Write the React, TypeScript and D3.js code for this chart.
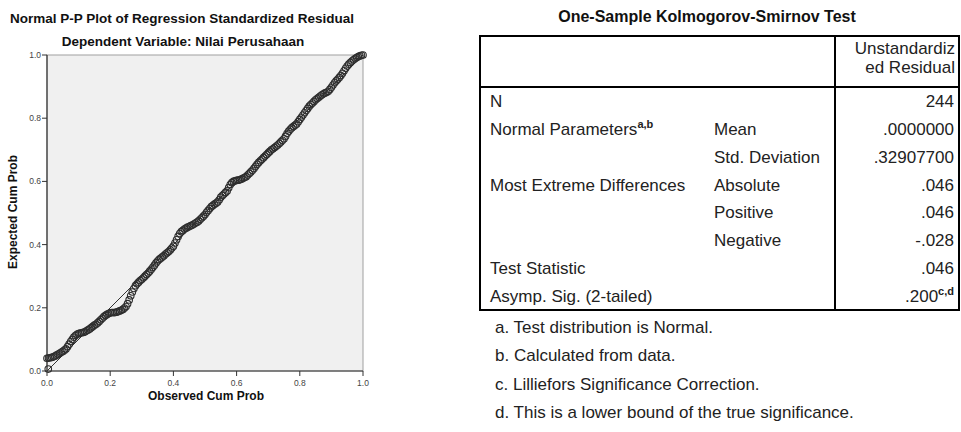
import React from 'react';
import * as d3 from 'd3';

const observedCum = [
  0.004, 0.00, 0.01, 0.02, 0.03, 0.04, 0.05, 0.06, 0.07, 0.08, 0.09,
  0.10, 0.11, 0.12, 0.13, 0.14, 0.15, 0.16, 0.17, 0.18, 0.19,
  0.20, 0.21, 0.22, 0.23, 0.24, 0.25, 0.26, 0.27, 0.28, 0.29,
  0.30, 0.31, 0.32, 0.33, 0.34, 0.35, 0.36, 0.37, 0.38, 0.39,
  0.40, 0.41, 0.42, 0.43, 0.44, 0.45, 0.46, 0.47, 0.48, 0.49,
  0.50, 0.51, 0.52, 0.53, 0.54, 0.55, 0.56, 0.57, 0.58, 0.59,
  0.60, 0.61, 0.62, 0.63, 0.64, 0.65, 0.66, 0.67, 0.68, 0.69,
  0.70, 0.71, 0.72, 0.73, 0.74, 0.75, 0.76, 0.77, 0.78, 0.79,
  0.80, 0.81, 0.82, 0.83, 0.84, 0.85, 0.86, 0.87, 0.88, 0.89,
  0.90, 0.91, 0.92, 0.93, 0.94, 0.95, 0.96, 0.97, 0.98, 0.99, 1.00,
  0.005, 0.015, 0.025, 0.035, 0.045, 0.055, 0.065, 0.075, 0.085, 0.095,
  0.105, 0.115, 0.125, 0.135, 0.145, 0.155, 0.165, 0.175, 0.185, 0.195,
  0.205, 0.215, 0.225, 0.235, 0.245, 0.255, 0.265, 0.275, 0.285, 0.295,
  0.305, 0.315, 0.325, 0.335, 0.345, 0.355, 0.365, 0.375, 0.385, 0.395,
  0.405, 0.415, 0.425, 0.435, 0.445, 0.455, 0.465, 0.475, 0.485, 0.495,
  0.505, 0.515, 0.525, 0.535, 0.545, 0.555, 0.565, 0.575, 0.585, 0.595,
  0.605, 0.615, 0.625, 0.635, 0.645, 0.655, 0.665, 0.675, 0.685, 0.695,
  0.705, 0.715, 0.725, 0.735, 0.745, 0.755, 0.765, 0.775, 0.785, 0.795,
  0.805, 0.815, 0.825, 0.835, 0.845, 0.855, 0.865, 0.875, 0.885, 0.895,
  0.905, 0.915, 0.925, 0.935, 0.945, 0.955, 0.965, 0.975, 0.985, 0.995
];
const expectedCum = [
  0.006, 0.040, 0.042, 0.045, 0.050, 0.056, 0.062, 0.070, 0.085, 0.100, 0.112,
  0.118, 0.121, 0.124, 0.130, 0.137, 0.145, 0.152, 0.162, 0.172, 0.179,
  0.184, 0.185, 0.186, 0.190, 0.195, 0.204, 0.225, 0.250, 0.270, 0.281,
  0.290, 0.300, 0.310, 0.322, 0.335, 0.348, 0.357, 0.365, 0.374, 0.383,
  0.395, 0.415, 0.435, 0.445, 0.452, 0.457, 0.462, 0.468, 0.475, 0.485,
  0.495, 0.508, 0.520, 0.528, 0.535, 0.550, 0.560, 0.570, 0.590, 0.600,
  0.603, 0.605, 0.610, 0.615, 0.625, 0.635, 0.648, 0.660, 0.670, 0.680,
  0.690, 0.700, 0.707, 0.715, 0.725, 0.735, 0.752, 0.765, 0.774, 0.782,
  0.796, 0.810, 0.824, 0.838, 0.848, 0.858, 0.866, 0.874, 0.880, 0.885,
  0.898, 0.912, 0.923, 0.935, 0.950, 0.965, 0.976, 0.985, 0.992, 0.997, 1.000,
  0.041, 0.043, 0.047, 0.053, 0.059, 0.066, 0.077, 0.093, 0.107, 0.116,
  0.120, 0.122, 0.127, 0.133, 0.141, 0.148, 0.157, 0.167, 0.176, 0.182,
  0.185, 0.185, 0.188, 0.192, 0.199, 0.213, 0.238, 0.261, 0.276, 0.286,
  0.295, 0.305, 0.316, 0.328, 0.342, 0.353, 0.361, 0.370, 0.378, 0.389,
  0.405, 0.426, 0.441, 0.449, 0.455, 0.460, 0.465, 0.471, 0.480, 0.490,
  0.502, 0.514, 0.524, 0.531, 0.542, 0.555, 0.565, 0.580, 0.596, 0.602,
  0.604, 0.607, 0.612, 0.620, 0.630, 0.641, 0.654, 0.665, 0.675, 0.685,
  0.695, 0.703, 0.711, 0.720, 0.730, 0.743, 0.759, 0.770, 0.778, 0.789,
  0.803, 0.817, 0.831, 0.843, 0.853, 0.862, 0.870, 0.877, 0.882, 0.891,
  0.905, 0.918, 0.929, 0.942, 0.958, 0.971, 0.981, 0.989, 0.995, 0.999
];
const axisTicks = [0, 0.2, 0.4, 0.6, 0.8, 1.0];

// Kolmogorov-Smirnov table
const ksHeader = ["Unstandardiz", "ed Residual"];
const ksLabels = ["N", "Normal Parameters", "", "Most Extreme Differences", "", "", "Test Statistic", "Asymp. Sig. (2-tailed)"];
const ksLabelSup = ["", "a,b", "", "", "", "", "", ""];
const ksSubLabels = ["", "Mean", "Std. Deviation", "Absolute", "Positive", "Negative", "", ""];
const ksValues = ["244", ".0000000", ".32907700", ".046", ".046", "-.028", ".046", ".200"];
const ksValueSup = ["", "", "", "", "", "", "", "c,d"];
const ksNotes = [
  "a. Test distribution is Normal.",
  "b. Calculated from data.",
  "c. Lilliefors Significance Correction.",
  "d. This is a lower bound of the true significance."
];

const font = "'Liberation Sans', Arial, sans-serif";

export default function App() {
  const x = d3.scaleLinear().domain([0, 1]).range([47, 363]);
  const y = d3.scaleLinear().domain([0, 1]).range([371, 55]);

  const tLeft = 480, tRight = 959, tTop = 36, tHead = 87, tBottom = 310;
  const rows = d3.scaleBand<number>().domain(d3.range(ksValues.length)).range([tHead, tBottom]);
  const colSep = 835;
  const fs = 17;

  return (
    <svg width={961} height={432} style={{ position: 'absolute', left: 0, top: 0, background: '#fff' }}
      fontFamily={font}>
      {/* left chart */}
      <text x={10} y={23} fontSize={13.5} fontWeight="bold" fill="#111">
        Normal P-P Plot of Regression Standardized Residual
      </text>
      <text x={183} y={46} fontSize={13.5} fontWeight="bold" fill="#111" textAnchor="middle">
        Dependent Variable: Nilai Perusahaan
      </text>

      <rect x={x(0)} y={y(1)} width={x(1) - x(0)} height={y(0) - y(1)} fill="#f0f0f0" stroke="#a0a0a0" strokeWidth={1} />
      <line x1={x(0)} x2={x(0)} y1={y(1)} y2={y(0)} stroke="#333" strokeWidth={1.2} />
      <line x1={x(0)} x2={x(1)} y1={y(0)} y2={y(0)} stroke="#333" strokeWidth={1.2} />

      {axisTicks.map(t => (
        <g key={'yt' + t}>
          <line x1={x(0) - 5} x2={x(0)} y1={y(t)} y2={y(t)} stroke="#333" />
          <text x={x(0) - 6} y={y(t)} dy="0.35em" fontSize={8.5} fill="#444" textAnchor="end">{t.toFixed(1)}</text>
        </g>
      ))}
      {axisTicks.map(t => (
        <g key={'xt' + t}>
          <line x1={x(t)} x2={x(t)} y1={y(0)} y2={y(0) + 5} stroke="#333" />
          <text x={x(t)} y={386} fontSize={8.5} fill="#444" textAnchor="middle">{t.toFixed(1)}</text>
        </g>
      ))}

      <line x1={x(0)} y1={y(0)} x2={x(1)} y2={y(1)} stroke="#333" strokeWidth={1} />
      {observedCum.map((o, i) => (
        <circle key={i} cx={x(o)} cy={y(expectedCum[i])} r={3.3} fill="none" stroke="#2e2e2e" strokeWidth={1.1} />
      ))}

      <text transform="translate(17,212) rotate(-90)" fontSize={12} fontWeight="bold" fill="#111" textAnchor="middle">
        Expected Cum Prob
      </text>
      <text x={206} y={400} fontSize={12} fontWeight="bold" fill="#111" textAnchor="middle">
        Observed Cum Prob
      </text>

      {/* right table */}
      <text x={707} y={22} fontSize={16} fontWeight="bold" fill="#111" textAnchor="middle">
        One-Sample Kolmogorov-Smirnov Test
      </text>
      <rect x={tLeft} y={tTop} width={tRight - tLeft} height={tBottom - tTop} fill="none" stroke="#000" strokeWidth={2} />
      <line x1={tLeft} x2={tRight} y1={tHead} y2={tHead} stroke="#000" strokeWidth={2} />
      <line x1={colSep} x2={colSep} y1={tTop} y2={tBottom} stroke="#000" strokeWidth={2} />

      {ksHeader.map((h, i) => (
        <text key={h} x={955} y={48 + i * 19} dy="0.35em" fontSize={fs} fill="#222" textAnchor="end">{h}</text>
      ))}
      {ksValues.map((v, i) => {
        const cy = (rows(i) as number) + rows.bandwidth() / 2;
        return (
          <g key={'r' + i}>
            <text x={490} y={cy} dy="0.35em" fontSize={fs} fill="#222">
              {ksLabels[i]}
              {ksLabelSup[i] && <tspan fontSize={11} fontWeight="bold" dy="-0.6em">{ksLabelSup[i]}</tspan>}
            </text>
            <text x={714} y={cy} dy="0.35em" fontSize={fs} fill="#222">{ksSubLabels[i]}</text>
            <text x={954} y={cy} dy="0.35em" fontSize={fs} fill="#222" textAnchor="end">
              {v}
              {ksValueSup[i] && <tspan fontSize={11} fontWeight="bold" dy="-0.6em">{ksValueSup[i]}</tspan>}
            </text>
          </g>
        );
      })}

      {ksNotes.map((n, i) => (
        <text key={n} x={495} y={327 + i * 28.3} dy="0.35em" fontSize={fs} fill="#222">{n}</text>
      ))}
    </svg>
  );
}
